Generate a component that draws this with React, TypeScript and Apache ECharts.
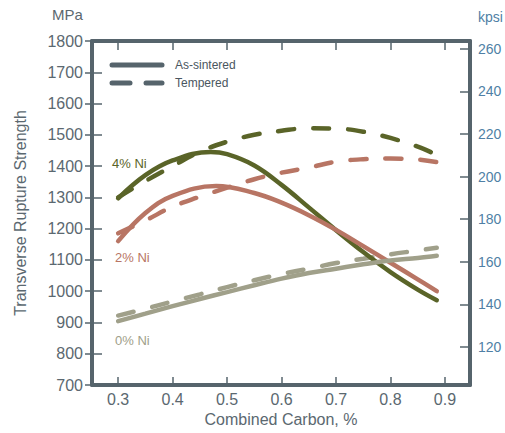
import React, { useEffect, useRef } from "react";
import * as echarts from "echarts";

// ---- data ----
const carbon = [0.3, 0.35, 0.4, 0.45, 0.5, 0.55, 0.6, 0.65, 0.7, 0.75, 0.8, 0.85, 0.885];
const carbon4Sintered = [0.3, 0.35, 0.4, 0.47, 0.5, 0.55, 0.6, 0.65, 0.7, 0.75, 0.8, 0.85, 0.885];
const ni4Sintered = [1297, 1371, 1418, 1445, 1438, 1402, 1340, 1268, 1195, 1125, 1061, 1005, 971];
const ni4Tempered = [1300, 1352, 1400, 1446, 1478, 1500, 1513, 1521, 1520, 1510, 1490, 1462, 1436];
const carbon2Sintered = [0.3, 0.35, 0.4, 0.48, 0.55, 0.6, 0.65, 0.7, 0.75, 0.8, 0.85, 0.885];
const ni2Sintered = [1160, 1250, 1305, 1336, 1314, 1283, 1243, 1196, 1144, 1091, 1038, 1000];
const ni2Tempered = [1185, 1226, 1270, 1302, 1331, 1358, 1379, 1395, 1414, 1422, 1424, 1421, 1413];
const ni0Sintered = [904, 928, 952, 975, 997, 1019, 1040, 1058, 1072, 1086, 1098, 1106, 1113];
const ni0Tempered = [922, 944, 967, 990, 1013, 1035, 1055, 1072, 1090, 1104, 1118, 1130, 1139];

const xTicks = [0.3, 0.4, 0.5, 0.6, 0.7, 0.8, 0.9];
const kpsiTicks = [120, 140, 160, 180, 200, 220, 240, 260];
const legendNames = ["As-sintered", "Tempered"];
const curveLabels = ["4% Ni", "2% Ni", "0% Ni"];

const OLIVE = "#5a6428";
const RED = "#b87564";
const GRAY = "#a0a08a";
const FRAME = "#56646c";
const LABEL = "#5b6870";
const BLUE = "#4f7fa5";
const FONT = "Liberation Sans, Arial, sans-serif";

const pairs = (xs: number[], vals: number[]) => xs.map((c, i) => [c, vals[i]]);

export default function App() {
  const ref = useRef<HTMLDivElement>(null);
  useEffect(() => {
    if (!ref.current) return;
    const chart = echarts.init(ref.current, undefined, { renderer: "svg" });
    const dash = [16, 19];
    const mk = (name: string, xs: number[], vals: number[], color: string, dashed: boolean) => ({
      name,
      type: "line",
      xAxisIndex: 0,
      yAxisIndex: 0,
      data: pairs(xs, vals),
      smooth: 0.4,
      showSymbol: false,
      silent: true,
      lineStyle: { width: 4.5, color, type: dashed ? dash : "solid", cap: "round" },
      z: dashed ? 3 : 4,
    });
    const xRange = { min: 0.252, max: 0.946 };
    chart.setOption({
      animation: false,
      textStyle: { fontFamily: FONT },
      grid: { left: 92, right: 35, top: 41, height: 344 },
      xAxis: [
        {
          type: "value",
          ...xRange,
          position: "bottom",
          axisLine: { show: true, onZero: false, lineStyle: { color: FRAME, width: 4 } },
          axisTick: { show: true, inside: true, length: 8, customValues: xTicks, lineStyle: { color: FRAME, width: 1.5 } },
          axisLabel: { customValues: xTicks, formatter: (v: number) => v.toFixed(1), fontSize: 16, color: LABEL, margin: 6 },
          splitLine: { show: false },
          name: "Combined Carbon, %",
          nameLocation: "middle",
          nameGap: 13,
          nameTextStyle: { fontSize: 16, color: LABEL, verticalAlign: "top" },
        },
        {
          type: "value",
          ...xRange,
          position: "top",
          axisLine: { show: true, onZero: false, lineStyle: { color: FRAME, width: 4 } },
          axisTick: { show: true, inside: true, length: 9, customValues: xTicks, lineStyle: { color: FRAME, width: 1.5 } },
          axisLabel: { show: false },
          splitLine: { show: false },
        },
      ],
      yAxis: [
        {
          type: "value",
          min: 700,
          max: 1800,
          interval: 100,
          position: "left",
          axisLine: { show: true, onZero: false, lineStyle: { color: FRAME, width: 4 } },
          axisTick: { show: true, inside: true, length: 10, lineStyle: { color: FRAME, width: 1.5 } },
          axisLabel: { fontSize: 16, color: LABEL, margin: 9, formatter: (v: number) => String(v) },
          splitLine: { show: false },
          name: "Transverse Rupture Strength",
          nameLocation: "middle",
          nameRotate: 90,
          nameGap: 64,
          nameTextStyle: { fontSize: 16, color: LABEL },
        },
        {
          type: "value",
          min: 102.16,
          max: 263.66,
          position: "right",
          axisLine: { show: true, onZero: false, lineStyle: { color: FRAME, width: 4 } },
          axisTick: { show: true, inside: true, length: 10, customValues: kpsiTicks, lineStyle: { color: FRAME, width: 1.5 } },
          axisLabel: { customValues: kpsiTicks, fontSize: 14, color: BLUE, margin: 8 },
          splitLine: { show: false },
        },
        {
          type: "value",
          min: 700,
          max: 1800,
          interval: 100,
          position: "left",
          axisLine: { show: false },
          axisTick: { show: true, inside: false, length: 7, lineStyle: { color: FRAME, width: 1.5 } },
          axisLabel: { show: false },
          splitLine: { show: false },
        },
      ],
      series: [
        mk("4% Ni " + legendNames[1], carbon, ni4Tempered, OLIVE, true),
        mk("2% Ni " + legendNames[1], carbon, ni2Tempered, RED, true),
        mk("0% Ni " + legendNames[1], carbon, ni0Tempered, GRAY, true),
        mk("4% Ni " + legendNames[0], carbon4Sintered, ni4Sintered, OLIVE, false),
        mk("2% Ni " + legendNames[0], carbon2Sintered, ni2Sintered, RED, false),
        mk("0% Ni " + legendNames[0], carbon, ni0Sintered, GRAY, false),
      ],
      graphic: [
        { type: "text", left: 52, top: 7, style: { text: "MPa", fontSize: 15, fill: LABEL, fontFamily: FONT } },
        { type: "text", left: 478, top: 10, style: { text: "kpsi", fontSize: 14, fill: BLUE, fontFamily: FONT } },
        { type: "line", shape: { x1: 112, y1: 65, x2: 162, y2: 65 }, style: { stroke: FRAME, lineWidth: 5, lineCap: "round" } },
        { type: "line", shape: { x1: 112, y1: 83, x2: 130, y2: 83 }, style: { stroke: FRAME, lineWidth: 5, lineCap: "round" } },
        { type: "line", shape: { x1: 146, y1: 83, x2: 162, y2: 83 }, style: { stroke: FRAME, lineWidth: 5, lineCap: "round" } },
        { type: "text", x: 175, y: 65, style: { text: legendNames[0], fontSize: 12, fill: "#4a5660", fontFamily: FONT, verticalAlign: "middle" } },
        { type: "text", x: 175, y: 83, style: { text: legendNames[1], fontSize: 12, fill: "#4a5660", fontFamily: FONT, verticalAlign: "middle" } },
        { type: "text", x: 112, y: 163, style: { text: curveLabels[0], fontSize: 13, fill: OLIVE, fontFamily: FONT, verticalAlign: "middle" } },
        { type: "text", x: 115, y: 257, style: { text: curveLabels[1], fontSize: 13, fill: RED, fontFamily: FONT, verticalAlign: "middle" } },
        { type: "text", x: 115, y: 340, style: { text: curveLabels[2], fontSize: 13, fill: GRAY, fontFamily: FONT, verticalAlign: "middle" } },
      ],
    });
    return () => chart.dispose();
  }, []);
  return <div ref={ref} style={{ position: "fixed", left: 0, top: 0, width: 505, height: 433, background: "#fff" }} />;
}
